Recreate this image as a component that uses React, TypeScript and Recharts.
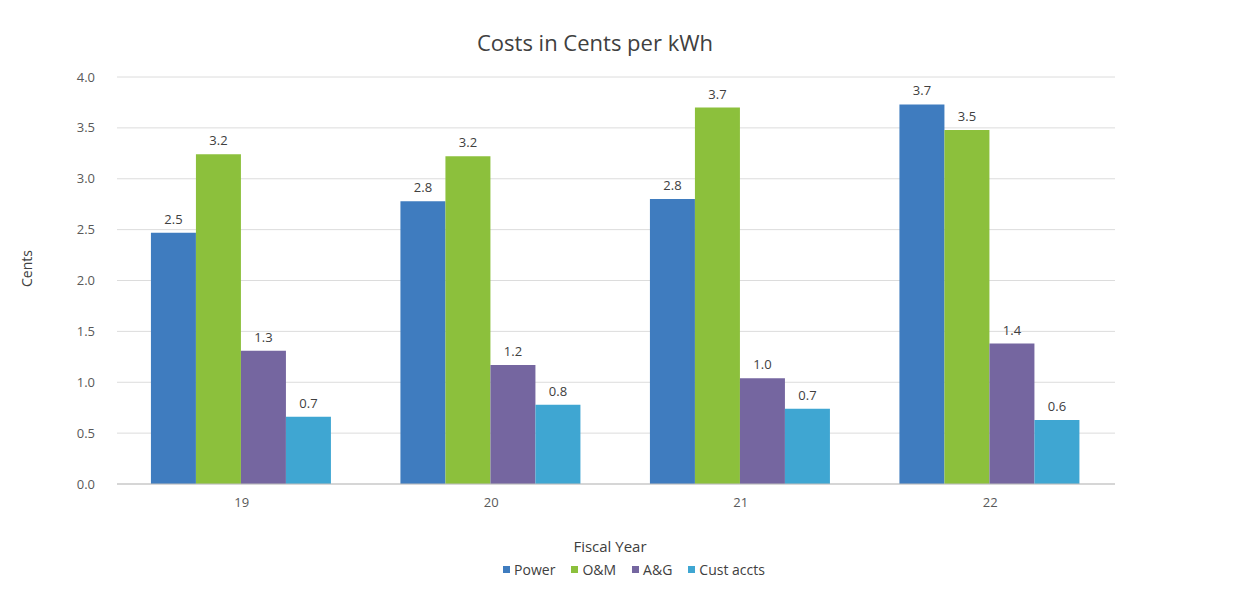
import React from 'react';
import { BarChart, Bar, XAxis, YAxis, CartesianGrid, LabelList } from 'recharts';

const years = ['19', '20', '21', '22'];
const power = [2.47, 2.78, 2.8, 3.73];
const oAndM = [3.24, 3.22, 3.7, 3.48];
const aAndG = [1.31, 1.17, 1.04, 1.38];
const custAccts = [0.66, 0.78, 0.74, 0.63];
const yTicks = [0, 0.5, 1, 1.5, 2, 2.5, 3, 3.5, 4];

const SERIES = [
  { key: 'power', name: 'Power', color: '#3f7cbf' },
  { key: 'om', name: 'O&M', color: '#8cc03c' },
  { key: 'ag', name: 'A&G', color: '#7566a0' },
  { key: 'cust', name: 'Cust accts', color: '#3fa6d2' },
];

const FONT = '"Open Sans", "Noto Sans", sans-serif';

const App: React.FC = () => {
  const data = years.map((year, i) => ({
    year,
    power: power[i],
    om: oAndM[i],
    ag: aAndG[i],
    cust: custAccts[i],
  }));

  return (
    <div style={{ position: 'absolute', left: 0, top: 0, width: 1249, height: 590, background: '#fff', fontFamily: FONT }}>
      <div style={{ position: 'absolute', top: 27, left: 0, width: 1190, textAlign: 'center', fontSize: 22, color: '#404040', fontWeight: 400 }}>
        Costs in Cents per kWh
      </div>
      <BarChart
        width={1249}
        height={590}
        data={data}
        margin={{ top: 77, right: 134, bottom: 76, left: 17 }}
        barGap={0}
        barCategoryGap="13.6%"
      >
        <CartesianGrid vertical={false} stroke="#dcdcdc" />
        <XAxis
          dataKey="year"
          height={30}
          tickLine={false}
          axisLine={{ stroke: '#bfbfbf' }}
          tickMargin={8}
          tick={{ fontSize: 13, fill: '#595959', fontFamily: FONT }}
          label={{ value: 'Fiscal Year', position: 'bottom', offset: 27, dx: -6, fontSize: 15, fill: '#404040', fontFamily: FONT }}
        />
        <YAxis
          width={100}
          domain={[0, 4]}
          ticks={yTicks}
          tickFormatter={(v: number) => v.toFixed(1)}
          tickLine={false}
          axisLine={false}
          tickMargin={16}
          tick={{ fontSize: 13, fill: '#595959', fontFamily: FONT }}
          label={{ value: 'Cents', angle: -90, position: 'center', dx: -40, dy: -12, fontSize: 14, fill: '#404040', fontFamily: FONT }}
        />
        {SERIES.map(s => (
          <Bar key={s.key} dataKey={s.key} name={s.name} fill={s.color} isAnimationActive={false}>
            <LabelList
              dataKey={s.key}
              position="top"
              offset={9}
              formatter={(v: number) => v.toFixed(1)}
              style={{ fontSize: 13, fill: '#404040', fontFamily: FONT }}
            />
          </Bar>
        ))}
      </BarChart>
      <div
        style={{
          position: 'absolute',
          top: 560,
          left: 0,
          width: 1268,
          display: 'flex',
          justifyContent: 'center',
          gap: 16,
          fontSize: 14,
          color: '#404040',
        }}
      >
        {SERIES.map(s => (
          <span key={s.key} style={{ display: 'flex', alignItems: 'center' }}>
            <span style={{ width: 7, height: 7, background: s.color, marginRight: 4, display: 'inline-block' }} />
            {s.name}
          </span>
        ))}
      </div>
    </div>
  );
};

export default App;
